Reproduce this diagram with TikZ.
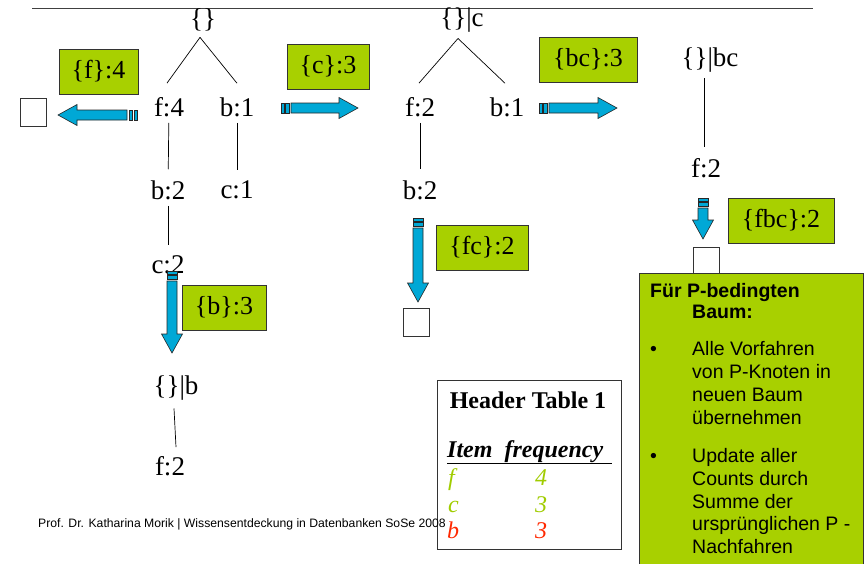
\documentclass[tikz,border=0pt]{standalone}
\usepackage{fontspec}
\setmainfont{Liberation Serif}
\newfontfamily\arialfont{Liberation Sans}
\usetikzlibrary{positioning}
\definecolor{lime}{RGB}{168,208,0}
\definecolor{arrowblue}{RGB}{0,168,214}
\definecolor{hdgreen}{RGB}{160,204,0}
\definecolor{hdred}{RGB}{255,40,0}
\tikzset{
	item/.style={font=\fontsize{27}{30}\selectfont, inner sep=2pt},
	branch/.style={line width=0.7pt, shorten <=4pt, shorten >=9pt},
	fork/.style={line width=0.7pt},
	countbox/.style={draw=black!80, fill=lime, font=\fontsize{26}{30}\selectfont, minimum height=45pt, inner sep=0pt},
	emptybox/.style={draw=black!80, line width=0.8pt, fill=white, minimum width=26pt, minimum height=28pt, inner sep=0pt},
	fatbody/.style={draw=black!85, line width=0.6pt, fill=arrowblue},
	hintline/.style={font=\arialfont\fontsize{19.5}{23}\selectfont, anchor=base west, inner sep=0pt},
	rowtext/.style={font=\fontsize{24}{28}\selectfont\itshape, anchor=base west, inner sep=0pt}
}
% block arrow: tail x, tail y, angle, length
\newcommand{\fatarrow}[4]{%
	\begin{scope}[shift={(#1,#2)}, rotate=#3]
		\draw[fatbody] (0,-5) rectangle (3,5);
		\draw[fatbody] (4.5,-5) rectangle (8,5);
		\draw[fatbody] (10,-5) -- (#4-19,-5) -- (#4-19,-10.5) -- (#4,0) -- (#4-19,10.5) -- (#4-19,5) -- (10,5) -- cycle;
	\end{scope}}
\begin{document}
\begin{tikzpicture}[x=1pt,y=-1pt]
	\useasboundingbox (0,0) rectangle (867,563);
	\draw[black!75, line width=0.8pt] (32,8) -- (813,8);
%	first tree
	\node[item] (root) at (203,20) {\{\}};
	\node[item] (f4) at (169,107) {f:4};
	\node[item] (b1) at (237,107) {b:1};
	\node[item] (b2) at (168,190) {b:2};
	\node[item] (c1) at (237,190) {c:1};
	\node[item] (c2) at (168,265) {c:2};
	\draw[fork] ([xshift=-3pt,yshift=-4pt]root.south) -- ([xshift=-2pt,yshift=12pt]f4.north);
	\draw[fork] ([xshift=-3pt,yshift=-4pt]root.south) -- ([yshift=12pt]b1.north);
	\draw[branch] (f4) -- (b2);
	\draw[branch] (b1) -- (c1);
	\draw[branch] (b2) -- (c2);
%	tree for b
	\node[item] (rootb) at (176,388) {\{\}|b};
	\node[item] (bf2) at (170,466) {f:2};
	\draw[fork] ([xshift=-2pt,yshift=-6pt]rootb.south) -- ([xshift=6pt,yshift=7pt]bf2.north);
%	tree for c
	\node[item] (rootc) at (462,20) {\{\}|c};
	\node[item] (cf2) at (420,107) {f:2};
	\node[item] (cb1) at (507,107) {b:1};
	\node[item] (cb2) at (420,190) {b:2};
	\draw[fork] ([xshift=-4pt,yshift=-4pt]rootc.south) -- ([xshift=-1pt,yshift=12pt]cf2.north);
	\draw[fork] ([xshift=-4pt,yshift=-4pt]rootc.south) -- ([xshift=-2pt,yshift=12pt]cb1.north);
	\draw[branch] (cf2) -- (cb2);
%	tree for bc
	\node[item] (rootbc) at (710,60) {\{\}|bc};
	\node[item] (bcf2) at (706,168) {f:2};
	\draw[fork] ([xshift=-6pt,yshift=-4pt]rootbc.south) -- ([xshift=-2pt,yshift=9pt]bcf2.north);
%	empty trees
	\node[emptybox] (nilf) at (33,112) {};
	\node[emptybox] (nilfc) at (416,322) {};
	\node[emptybox, minimum height=30pt] (nilfbc) at (706,262) {};
%	arrows
	\fatarrow{137}{115}{180}{79}
	\fatarrow{281}{108}{0}{77}
	\fatarrow{539}{108}{0}{78}
	\fatarrow{172}{271}{-90}{82}
	\fatarrow{418}{218}{-90}{84}
	\fatarrow{703}{198}{-90}{41}
%	patterns
	\node[countbox, minimum width=79pt] (pf) at (98.5,71.5) {\{f\}:4};
	\node[countbox, minimum width=82pt] (pc) at (328,66.5) {\{c\}:3};
	\node[countbox, minimum width=98pt] (pbc) at (588,59.5) {\{bc\}:3};
	\node[countbox, minimum width=84pt] (pb) at (224,307.5) {\{b\}:3};
	\node[countbox, minimum width=92pt] (pfc) at (482,247.5) {\{fc\}:2};
	\node[countbox, minimum width=106pt] (pfbc) at (781,220.5) {\{fbc\}:2};
%	header table
	\node[draw=black!80, line width=0.8pt, minimum width=184pt, minimum height=169pt, inner sep=0pt] (htable) at (529,464.5) {};
	\node[font=\fontsize{24}{28}\selectfont\bfseries] (htitle) at (528,400) {Header Table 1};
	\node[font=\fontsize{24}{28}\selectfont\bfseries\itshape, anchor=base west, inner sep=0pt] (hhead) at (447,457) {\underline{Item\hspace{12pt}frequency\hspace{9pt}}};
	\node[rowtext, text=hdgreen] (fitem) at (448,485) {f};
	\node[rowtext, text=hdgreen] (fcount) at (535,485) {4};
	\node[rowtext, text=hdgreen] (citem) at (448,512) {c};
	\node[rowtext, text=hdgreen] (ccount) at (535,512) {3};
	\node[rowtext, text=hdred] (bitem) at (447,538) {b};
	\node[rowtext, text=hdred] (bcount) at (535,538) {3};
%	hint box
	\node[draw=black!80, line width=0.8pt, fill=lime, minimum width=224pt, minimum height=300pt, anchor=north west, inner sep=0pt] (hint) at (639,273) {};
	\node[hintline, font=\arialfont\bfseries\fontsize{19.5}{23}\selectfont] (h1) at (650,297) {Für P-bedingten};
	\node[hintline, font=\arialfont\bfseries\fontsize{19.5}{23}\selectfont] (h2) at (692,318) {Baum:};
	\node[hintline] (dot1) at (650,355) {•};
	\node[hintline] (dot2) at (650,462) {•};
	\foreach \yy/\txt [count=\i] in {355/Alle Vorfahren, 378/von P-Knoten in, 401/neuen Baum, 424/übernehmen, 462/Update aller, 485/Counts durch, 508/Summe der, 530/ursprünglichen P -, 553/Nachfahren}
		\node[hintline] (line\i) at (692,\yy) {\txt};
%	footer
	\node[font=\arialfont\fontsize{12.2}{14}\selectfont, anchor=base west, inner sep=0pt] (footer) at (38,527) {Prof. Dr. Katharina Morik | Wissensentdeckung in Datenbanken SoSe 2008};
\end{tikzpicture}
\end{document}
